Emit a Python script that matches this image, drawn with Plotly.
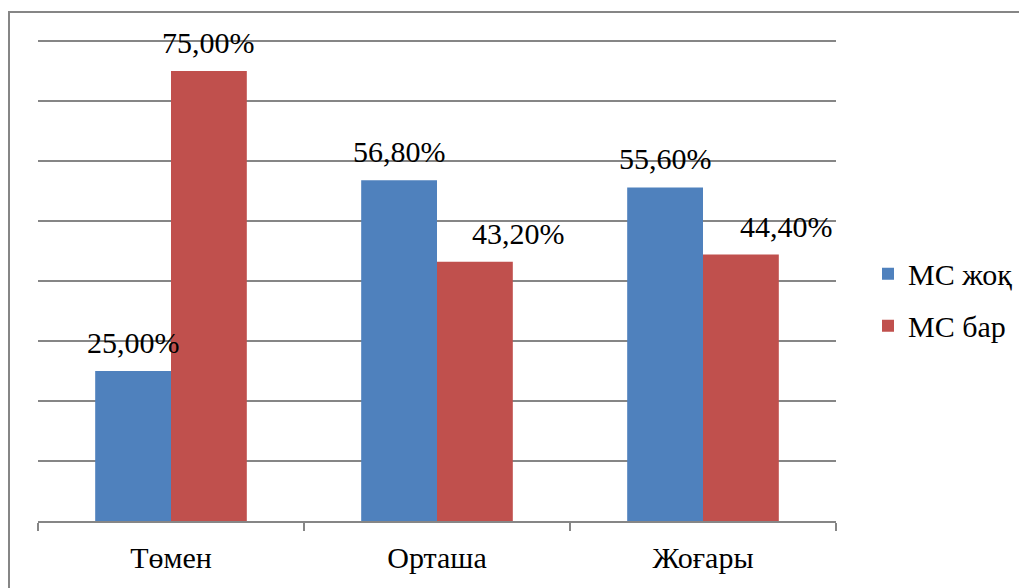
import plotly.graph_objects as go

categories = ["Төмен", "Орташа", "Жоғары"]
series_names = ["МС жоқ", "МС бар"]
ms_zhoq = [25.0, 56.8, 55.6]
ms_bar = [75.0, 43.2, 44.4]
label_zhoq = ["25,00%", "56,80%", "55,60%"]
label_bar = ["75,00%", "43,20%", "44,40%"]
colors = ["#4F81BD", "#C0504D"]

# label nudges (px) to mimic the original's label placement
nudge_zhoq = [0, 0, 0]
nudge_bar = [0, 44, 46]

FONT = "Liberation Serif"
# page body has an 8px margin; figure coordinates = screen - 8
W, H = 1027, 588
ML, MR, MT, MB = 30, 199, 30, 75

fig = go.Figure()
for name, vals, col in zip(series_names, [ms_zhoq, ms_bar], colors):
    fig.add_trace(go.Bar(x=categories, y=vals, name=name, marker_color=col,
                         marker_line_width=0, legendgroup=name))

bar_w_px = (W - ML - MR) / 3 * (1 - 0.43) / 2
for vals, labels, nudges, sgn in [(ms_zhoq, label_zhoq, nudge_zhoq, -1),
                                   (ms_bar, label_bar, nudge_bar, 1)]:
    for c, v, t, n in zip(categories, vals, labels, nudges):
        fig.add_annotation(x=c, y=v, text=t, showarrow=False, xref="x", yref="y",
                           xanchor="center", yanchor="bottom",
                           xshift=sgn * bar_w_px / 2 + n,
                           yshift=10, font=dict(family=FONT, size=30, color="#000000"))

# outer chart border
pw, ph = W - ML - MR, H - MT - MB
fig.add_shape(type="rect", xref="paper", yref="paper",
              x0=(1 - ML) / pw, x1=(1100 - ML) / pw,
              y0=-(640 - (H - MB)) / ph, y1=((H - MB) - 4) / ph,
              line=dict(color="#868686", width=2), fillcolor="rgba(0,0,0,0)", layer="below")

fig.update_layout(
    width=W, height=H,
    margin=dict(l=ML, r=MR, t=MT, b=MB, pad=0),
    paper_bgcolor="white", plot_bgcolor="white",
    barmode="group", bargap=0.43, bargroupgap=0,
    font=dict(family=FONT, size=30, color="#000000"),
    legend=dict(x=(860 - ML) / pw, xanchor="left", y=0.458, yanchor="middle",
                font=dict(family=FONT, size=30), tracegroupgap=10,
                traceorder="grouped", bgcolor="rgba(0,0,0,0)"),
    xaxis=dict(showline=True, linecolor="#868686", linewidth=2, ticks="outside",
               tickson="boundaries", ticklen=8, tickcolor="#868686", tickwidth=2,
               showgrid=False, tickfont=dict(family=FONT, size=30),
               ticklabelstandoff=9),
    yaxis=dict(range=[0, 80.5], dtick=10, showticklabels=False, showgrid=True,
               gridcolor="#868686", gridwidth=2, zeroline=False, showline=False, ticks=""),
)

fig.write_html("out.html")
